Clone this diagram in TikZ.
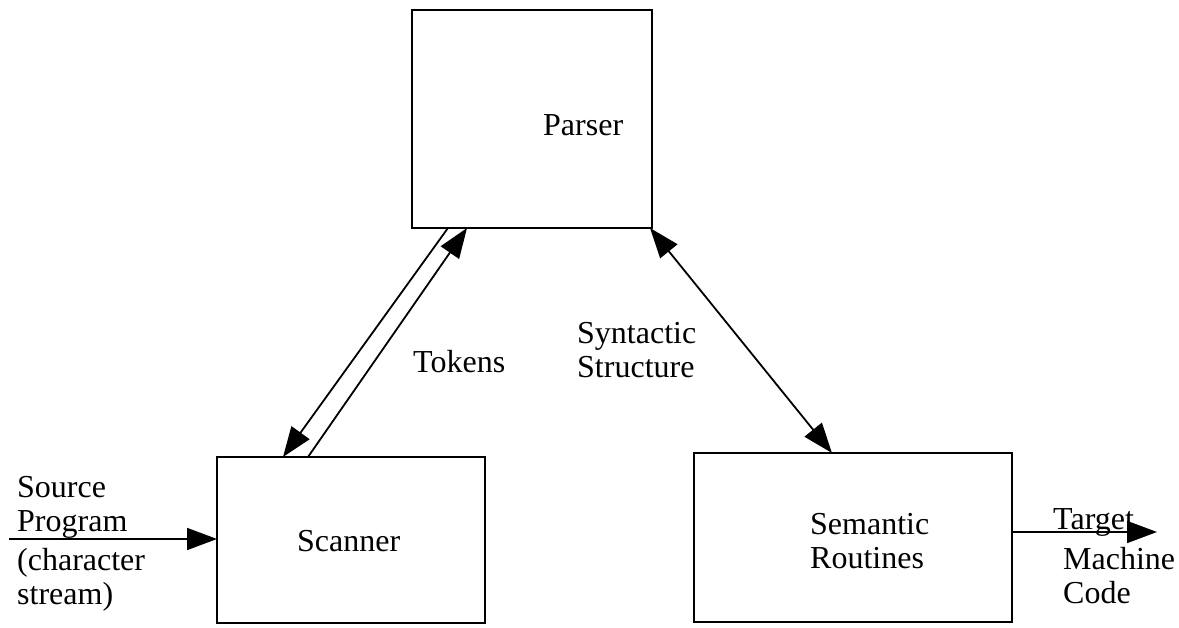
\documentclass[tikz,border=0pt]{standalone}
\usepackage{fontspec}
\setmainfont{Liberation Serif}
\usetikzlibrary{arrows.meta}
\begin{document}
\begin{tikzpicture}[x=1pt,y=-1pt,
  box/.style={draw,line width=2.2pt,inner sep=0pt,outer sep=0pt},
  lbl/.style={anchor=base west,inner sep=0pt,font=\fontsize{32}{34}\selectfont,align=left},
  arr/.style={line width=1.8pt,-{Triangle[length=30pt,width=22pt]}},
  darr/.style={line width=1.8pt,{Triangle[length=30pt,width=22pt]}-{Triangle[length=30pt,width=22pt]}}]
\useasboundingbox (0,0) rectangle (1179,628);

% boxes
\node[box,minimum width=240pt,minimum height=218pt] (parser) at (532,119) {};
\node[box,minimum width=268pt,minimum height=166pt] (scanner) at (351,540) {};
\node[box,minimum width=318pt,minimum height=169pt] (sem) at (853,537.5) {};

% box captions (base = baseline of the last line)
\node[lbl] (tparser) at (543,136) {Parser};
\node[lbl] (tscanner) at (297,551) {Scanner};
\node[lbl] (tsem) at (810,568) {Semantic\\Routines};

% free ends of the outer arrows
\coordinate (src) at (9,539);
\coordinate (tgt) at (1157,532);

% connectors
\draw[arr] ([xshift=36pt]parser.south west) -- ([xshift=66pt]scanner.north west);
\draw[arr] ([xshift=91pt]scanner.north west) -- ([xshift=55pt]parser.south west);
\draw[darr] ([xshift=238pt]parser.south west) -- ([xshift=138pt]sem.north west);
\draw[arr] (src) -- (src -| scanner.west);
\draw[arr] (tgt -| sem.east) -- (tgt);

% connector labels
\node[lbl] (ttok) at (413,373) {Tokens};
\node[lbl] (tsyn) at (577,378) {Syntactic\\Structure};
\node[lbl] (tsrc) at (17,531) {Source\\Program};
\node[lbl] (tchr) at (17,604) {(character\\stream)};
\node[lbl] (ttgt) at (1053,529) {Target};
\node[lbl] (tmc) at (1063,603) {Machine\\Code};
\end{tikzpicture}
\end{document}
